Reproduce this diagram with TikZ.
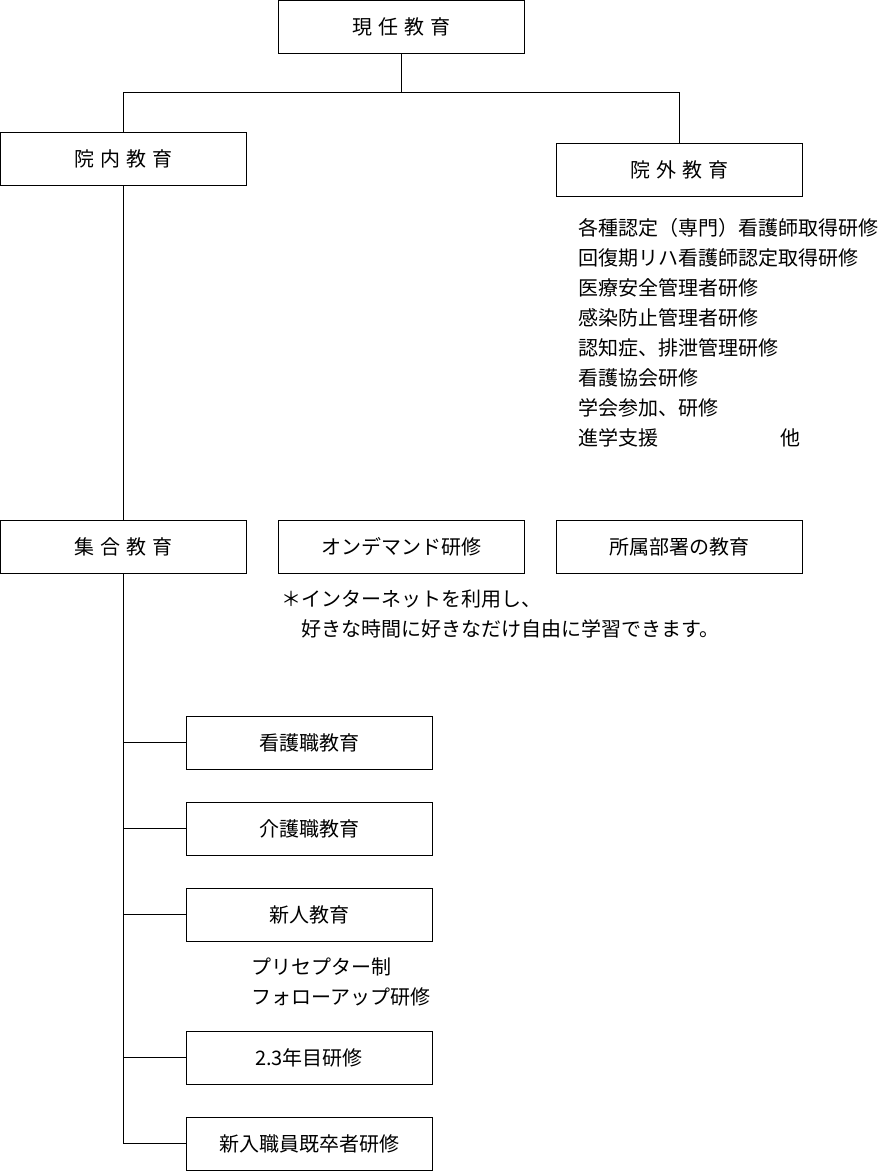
\documentclass[tikz,border=0pt]{standalone}
\usepackage{fontspec}
\setmainfont{Noto Sans CJK JP}
\usepackage{tikz}
\usetikzlibrary{positioning}

\begin{document}
\begin{tikzpicture}[x=1pt, y=-1pt,
    box/.style={draw, line width=1pt, minimum width=246pt, minimum height=53pt, inner sep=0pt,
                font=\fontsize{20}{22}\selectfont},
    memo/.style={anchor=north west, inner sep=0pt, align=left,
                 font=\fontsize{20}{30}\selectfont}
  ]
  \useasboundingbox (0,0) rectangle (878,1171);

  % top
  \node[box] (genin) at (401,26.5) {現\hspace{.3em}任\hspace{.3em}教\hspace{.3em}育};
  \node[box] (innai) at (123.5,158.5) {院\hspace{.3em}内\hspace{.3em}教\hspace{.3em}育};
  \node[box] (ingai) at (679,169.5) {院\hspace{.3em}外\hspace{.3em}教\hspace{.3em}育};
  \draw[line width=1pt] (genin.south) -- ++(0,39) coordinate (fork);
  \draw[line width=1pt] (innai.north) |- (fork) -| (ingai.north);

  % outside
  \node[memo] (gaibu) at (578,218) {各種認定（専門）看護師取得研修\\
    回復期リハ看護師認定取得研修\\ 医療安全管理者研修\\ 感染防止管理者研修\\
    認知症、排泄管理研修\\ 看護協会研修\\ 学会参加、研修\\ 進学支援\hspace{122pt}他};

  % inside
  \node[box] (shugo) at (123.5,546.5) {集\hspace{.3em}合\hspace{.3em}教\hspace{.3em}育};
  \node[box] (ondemand) at (401,546.5) {オンデマンド研修};
  \node[box] (shozoku) at (679,546.5) {所属部署の教育};
  \draw[line width=1pt] (innai.south) -- (shugo.north);
  \node[memo] (netnote) at (281,590) {＊インターネットを利用し、\\
    　好きな時間に好きなだけ自由に学習できます。};

  % group training
  \foreach \name/\y/\txt in {kango/742.5/看護職教育, kaigo/828.5/介護職教育,
      shinjin/914.5/新人教育, nen23/1057.5/2.3年目研修, kisotsu/1143.5/新入職員既卒者研修} {
    \node[box] (\name) at (309,\y) {\txt};
    \draw[line width=1pt] (shugo.south |- \name.west) -- (\name.west);
  }
  \draw[line width=1pt] (shugo.south) -- (shugo.south |- kisotsu.west);
  \node[memo] (preceptor) at (251,958) {プリセプター制\\ フォローアップ研修};
\end{tikzpicture}
\end{document}
